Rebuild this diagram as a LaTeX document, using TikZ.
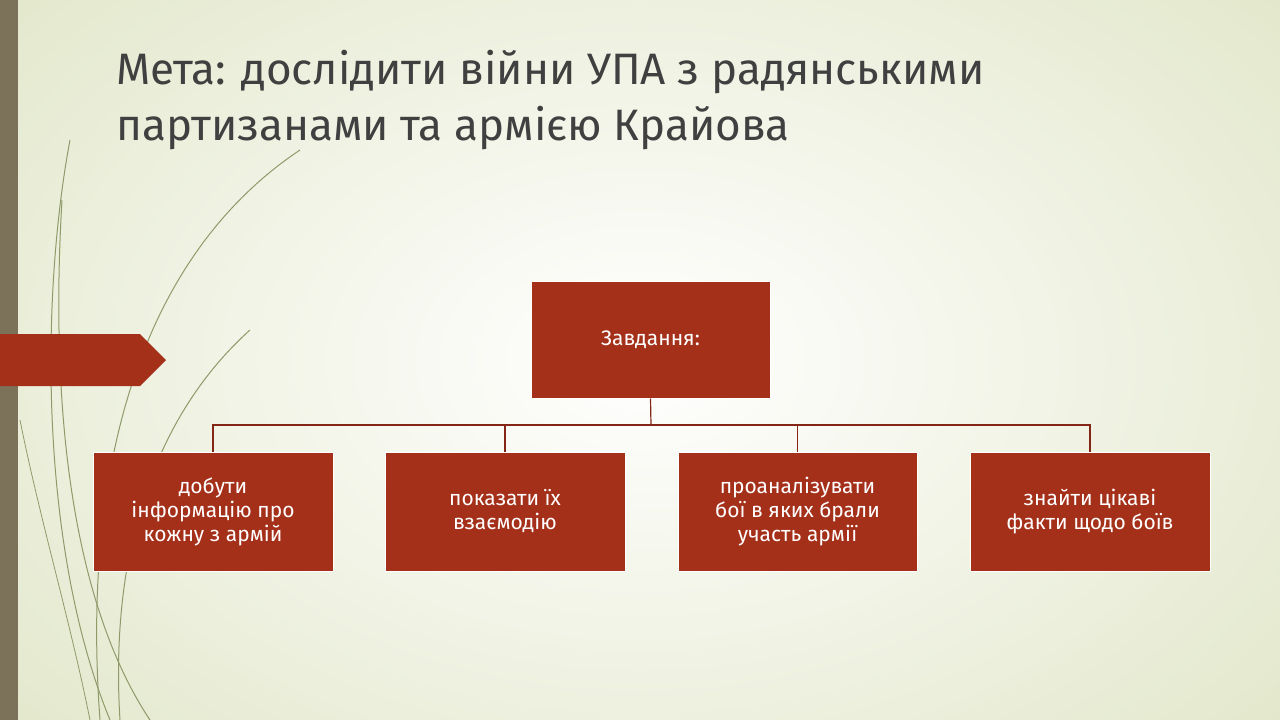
\documentclass[tikz,border=0pt]{standalone}
\usepackage{fontspec}
\setmainfont{Fira Sans}
\usetikzlibrary{shapes.geometric}
\definecolor{red1}{HTML}{A5301A}
\definecolor{bg}{HTML}{E3E8CC}
\definecolor{olive}{HTML}{7B7259}
\definecolor{leaf}{HTML}{8F9A6A}
\tikzset{box/.style={draw=white,line width=1pt,fill=red1,text=white,font=\fontsize{21}{24}\selectfont,align=center,inner sep=0pt},
conn/.style={draw=red1!80!black,line width=1.2pt}}
\begin{document}
\begin{tikzpicture}[x=1pt,y=-1pt]
\useasboundingbox (0,0) rectangle (1280,720);
\shade[inner color=white,outer color=bg] (-200,-200) rectangle (1480,920);
\fill[olive] (0,0) rectangle (18,720);
% decorative curves
\foreach \a/\b/\c in {70/20/140,65/40/120,300/150/720,250/120/560,200/90/720}{}
\draw[leaf,line width=1pt] (70,140) .. controls (40,300) and (40,550) .. (110,720);
\draw[leaf,line width=1pt] (62,200) .. controls (50,400) and (70,600) .. (150,720);
\draw[leaf,line width=1pt] (300,150) .. controls (150,250) and (80,450) .. (100,720);
\draw[leaf,line width=1pt] (250,330) .. controls (150,420) and (110,560) .. (120,720);
\draw[leaf,line width=0.8pt] (20,420) .. controls (40,520) and (70,620) .. (90,720);
\fill[red1] (0,334) -- (140,334) -- (166,360) -- (140,386) -- (0,386) -- cycle;
\node[anchor=base west,text=black!75,font=\fontsize{44}{50}\selectfont] (t1) at (113,84) {Мета: дослідити війни УПА з радянськими};
\node[anchor=base west,text=black!75,font=\fontsize{44}{50}\selectfont] (t2) at (113,140) {партизанами та армією Крайова};
\node[box,minimum width=239,minimum height=117] (top) at (650.5,339.5) {Завдання:};
\node[box,minimum width=240,minimum height=119] (b1) at (213,511.5) {добути\\інформацію про\\кожну з армій};
\node[box,minimum width=240,minimum height=119] (b2) at (505,511.5) {показати їх\\взаємодію};
\node[box,minimum width=239,minimum height=119] (b3) at (797.5,511.5) {проаналізувати\\бої в яких брали\\участь армії};
\node[box,minimum width=240,minimum height=119] (b4) at (1090,511.5) {знайти цікаві\\факти щодо боїв};
\coordinate (j) at (651,425);
\draw[conn] (top.south) -- (j);
\draw[conn] (b1.north) |- (j) -| (b4.north);
\draw[conn] (b2.north) -- (b2.north |- j);
\draw[conn] (b3.north) -- (b3.north |- j);
\end{tikzpicture}
\end{document}
